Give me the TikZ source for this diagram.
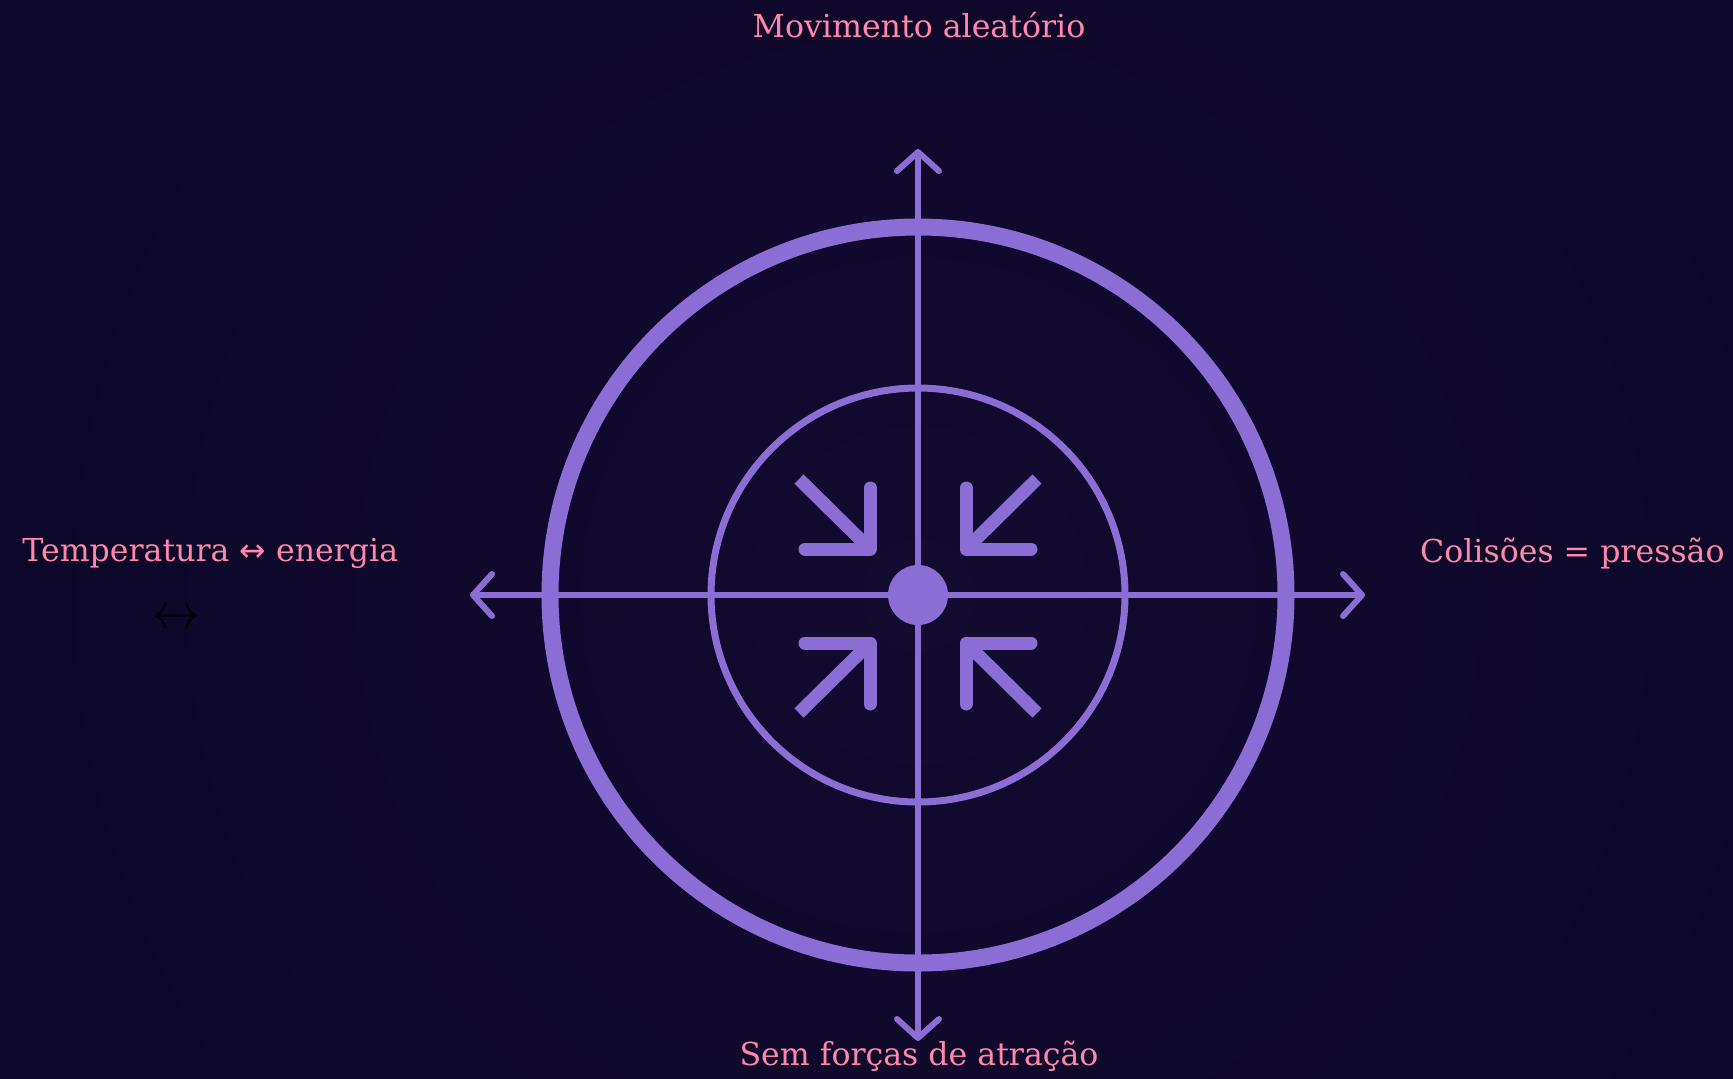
\documentclass[tikz,border=0pt]{standalone}
\usepackage{fontspec}
\usetikzlibrary{calc}
\setmainfont{DejaVu Serif}
\newfontfamily\symf{DejaVu Sans}
\definecolor{bg}{HTML}{0C0728}
\definecolor{bgc}{HTML}{140B30}
\definecolor{vio}{HTML}{8A6DD5}
\definecolor{pk}{HTML}{FF87AA}
\begin{document}
\begin{tikzpicture}[x=0.5pt,y=-0.5pt,
  lbl/.style={text=pk, font=\fontsize{15.8}{19}\selectfont, inner sep=0pt},
  axisline/.style={draw=vio, line width=3pt},
  chev/.style={draw=vio, line width=3pt, line cap=round, line join=round},
  icon/.style={draw=vio, line width=6.5pt, line join=round},
  iconarm/.style={draw=vio, line width=6.5pt, line cap=round, line join=round}]
\useasboundingbox (0,0) rectangle (1733,1078);
\fill[bg] (-10,-10) rectangle (1743,1088);
\shade[inner color=bgc, outer color=bg] (918,595) circle[radius=900];

\coordinate (C) at (918,595);
\coordinate (T) at (918,152);
\coordinate (B) at (918,1038);
\coordinate (L) at (473,595);
\coordinate (R) at (1362,595);

% rings
\draw[vio, line width=8.5pt] (C) circle[radius=368];
\draw[vio, line width=3.5pt] (C) circle[radius=207];

% axes
\draw[axisline] (L) -- (R);
\draw[axisline] (T) -- (B);
\draw[chev] ($(L)+(19,-21)$) -- (L) -- ($(L)+(19,21)$);
\draw[chev] ($(R)+(-19,-21)$) -- (R) -- ($(R)+(-19,21)$);
\draw[chev] ($(T)+(-21,19)$) -- (T) -- ($(T)+(21,19)$);
\draw[chev] ($(B)+(-21,-19)$) -- (B) -- ($(B)+(21,-19)$);

% centre dot
\fill[vio] (C) circle[radius=30];

% compress icon
\coordinate (Ci) at (918,596);
\foreach \sx/\sy/\nm in {-1/-1/a, 1/-1/b, -1/1/c, 1/1/d}{
  \coordinate (k\nm) at ($(Ci)+(\sx*48,\sy*47)$);
  \coordinate (s\nm) at ($(Ci)+(\sx*119,\sy*117)$);
  \coordinate (h\nm) at ($(Ci)+(\sx*113,\sy*47)$);
  \coordinate (v\nm) at ($(Ci)+(\sx*48,\sy*108)$);
  \draw[icon] (s\nm) -- (k\nm);
  \draw[iconarm] (h\nm) -- (k\nm) -- (v\nm);
}

% labels
\node[lbl, anchor=base] (top) at (919,37) {Movimento aleatório};
\node[lbl, anchor=base] (bot) at (919,1065) {Sem forças de atração};
\node[lbl, anchor=base east] (right) at (1725,562) {Colisões = pressão};
\node[lbl, anchor=base west] (left) at (22,561) {Temperatura {\symf ↔} energia};
\node[inner sep=0pt, text=black, font=\fontsize{24}{24}\selectfont] (arr) at (176,619) {$\leftrightarrow$};
\end{tikzpicture}
\end{document}
